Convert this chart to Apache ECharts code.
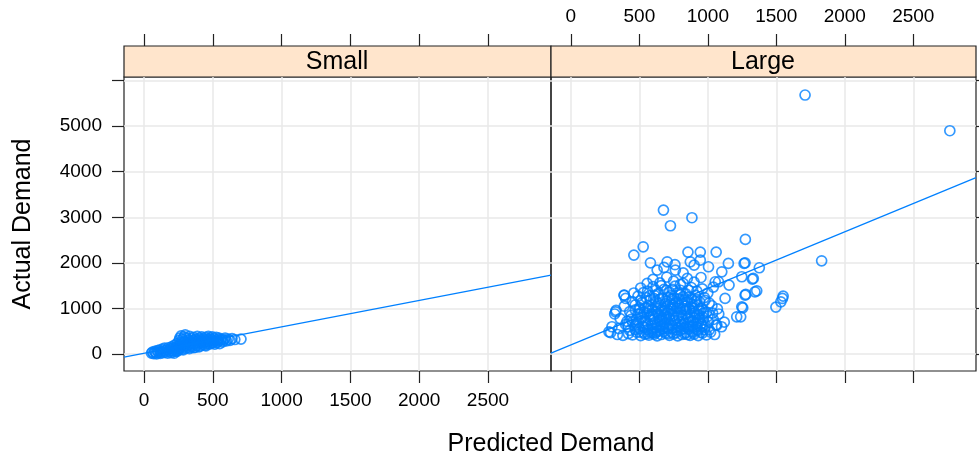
<!DOCTYPE html>
<html lang="en">
<head>
<meta charset="UTF-8">
<title>Actual vs Predicted Demand</title>
<style>
  html, body { margin: 0; padding: 0; background: #fff; }
  #chart { width: 979px; height: 461px; }
</style>
</head>
<body>
<div id="chart"></div>
<script src="https://cdn.jsdelivr.net/npm/echarts@6/dist/echarts.min.js"></script>
<script>
// panel names
var panels = ['Small', 'Large'];

// axis ticks
var xTicks = [0, 500, 1000, 1500, 2000, 2500];
var yTicks = [0, 1000, 2000, 3000, 4000, 5000, 6000];
var yLabels = [0, 1000, 2000, 3000, 4000, 5000];
var xRange = [-145, 2958];
var yRange = [-370, 6075];

// fitted lines: [intercept, slope]
var smallFit = [19, 0.579];
var largeFit = [202, 1.24];

// [predicted, actual] - Small
var smallPoints = [
  [55,20],[62,45],[70,10],[78,60],[85,30],[92,5],[98,75],[105,40],[112,90],[118,15],
  [125,55],[132,110],[138,30],[145,70],[150,130],[158,45],[165,95],[172,20],[178,140],[185,65],
  [190,110],[196,35],[200,160],[205,85],[210,130],[215,55],[220,190],[225,105],[230,150],[235,70],
  [240,230],[244,120],[248,175],[252,95],[256,300],[260,210],[264,140],[268,260],[272,180],[276,110],
  [280,330],[284,240],[288,160],[292,380],[296,280],[300,200],[304,130],[308,350],[312,250],[316,180],
  [320,310],[324,220],[328,150],[332,390],[336,270],[340,200],[344,340],[348,240],[352,170],[356,300],
  [360,370],[364,220],[368,280],[372,150],[376,330],[380,250],[384,190],[388,390],[392,300],[396,230],
  [400,350],[404,270],[408,180],[412,320],[416,240],[420,380],[424,290],[428,210],[432,340],[436,260],
  [440,310],[444,200],[448,370],[452,280],[456,230],[460,330],[464,260],[468,390],[472,300],[476,220],
  [480,350],[484,270],[488,320],[492,240],[496,380],[500,300],[505,260],[510,340],[515,220],[520,290],
  [525,370],[530,250],[535,320],[540,280],[545,350],[550,230],[558,300],[565,330],[572,270],[580,310],
  [590,350],[600,290],[612,330],[625,300],[640,340],[660,320],[705,330],
  [270,400],[300,420],[260,350],[285,95],[330,120],[360,140],[400,160],[450,180],[240,60],[220,20]
];

// [predicted, actual] - Large
var largePoints = [
  [290,470],[340,430],[380,410],[420,450],[450,420],[480,480],[510,405],[540,440],[570,415],[600,470],
  [630,400],[660,430],[690,460],[720,410],[750,445],[780,400],[810,430],[840,470],[870,410],[900,440],
  [930,405],[960,460],[990,420],[1020,480],[1050,430],
  [300,600],[350,560],[400,650],[430,520],[470,620],[500,560],[530,690],[560,540],[590,640],[620,580],
  [650,520],[680,670],[710,560],[740,630],[770,530],[800,600],[830,680],[860,550],[890,620],[920,540],
  [950,660],[980,590],[1010,530],[1060,640],[1100,600],
  [320,880],[360,780],[410,720],[440,850],[480,760],[510,880],[545,730],[575,820],[605,760],[635,890],
  [665,720],[695,810],[725,870],[755,740],[785,840],[815,770],[845,880],[875,720],[905,800],[935,860],
  [965,750],[1000,830],[1040,760],[1080,880],[1120,700],
  [330,960],[390,1050],[430,930],[470,1080],[505,990],[535,920],[565,1060],[595,980],[625,930],[655,1070],
  [685,1000],[715,940],[745,1080],[775,1010],[805,920],[835,1050],[865,980],[895,940],[925,1070],[955,1000],
  [990,920],[1030,1060],[1070,990],
  [390,1290],[400,1220],[450,1150],[490,1270],[520,1130],[550,1240],[580,1180],[610,1290],[640,1120],[670,1230],
  [700,1160],[730,1280],[760,1110],[790,1210],[820,1260],[850,1140],[880,1220],[910,1290],[940,1150],[975,1240],
  [1010,1120],[1126,1221],
  [460,1340],[510,1450],[560,1380],[600,1480],[640,1330],[680,1420],[720,1360],[760,1490],[800,1400],[840,1320],
  [880,1460],[920,1380],[960,1430],[1000,1340],[1040,1470],
  [557,1550],[600,1640],[650,1560],[700,1690],[750,1600],[800,1530],[850,1660],[900,1580],[950,1680],[1054,1586],
  [1078,1586],
  [630,1842],[680,1900],[703,2024],[763,1842],[820,1780],[872,2024],[945,2060],[1005,1915],[1102,1805],[900,1950],
  [581,2002],[760,1960],
  [470,540],[495,700],[525,610],[555,900],[585,470],[615,700],[645,820],[675,560],[705,900],[735,480],
  [765,690],[795,1000],[825,560],[855,800],[885,500],[915,680],[945,950],[975,540],[1005,700],[1035,900],
  [520,800],[560,1010],[600,560],[640,1000],[680,850],[720,640],[760,940],[800,700],[840,600],[880,1100],
  [920,860],[960,620],[500,1020],[540,580],[580,750],[620,1150],[660,620],[700,760],[740,1200],[780,580],
  [820,1000],[860,700],[900,1060],[940,780],[980,1180],[450,700],[420,600],[490,880],[530,1350],[570,950],
  [610,440],[650,740],[690,1100],[730,1020],[770,800],[810,1120],[850,430],[890,730],[930,520],[970,900],
  [560,450],[590,520],[620,470],[650,600],[680,500],[710,450],[740,560],[770,470],[800,520],[830,450],
  [860,600],[890,470],[920,600],[950,480],[600,820],[630,660],[660,960],[690,680],[720,780],[750,850],
  [780,660],[810,860],[840,960],[870,850],[900,900],[930,700],[960,820],[560,660],[590,880],[620,1050],
  [650,1200],[680,950],[710,1250],[740,990],[770,1150],[800,1300],[830,1180],[860,1250],[890,1020],[920,1200],
  [700,1400],[740,1420],[780,1350],[620,1400],[660,1500],[820,1550],[860,1400],[500,480],[530,470],[480,650],
  [440,760],[470,970],[510,1180],[545,1020],[575,1280],[605,1220],[635,500],[665,780],[695,580],[725,1100],
  [755,1220],[785,1100],[815,640],[845,1000],[875,600],[905,1150],[935,980],
  [460,2171],[528,2353],[676,3158],[727,2814],[884,2990],[855,2237],[945,2237],[1061,2237],[1150,1989],[1272,2002],
  [1274,2515],[1376,1893],[1248,1696],[1325,1645],[1155,1513],[1357,1388],[1277,1309],[1550,1272],[1533,1147],[1497,1031],
  [1545,1220],[1255,1015],[1240,818],[1211,818],[1066,636],[1248,1037],[1272,1294],[1344,1366],[1332,1660],[1831,2046],
  [1710,5680],[2767,4897],[1265,1989],[278,489],[327,928],[388,1294]
];

var blue = '#0080ff';
var ink = '#222';
var font = 'Liberation Sans, Arial, sans-serif';

function fitLine(fit) {
  return [
    [xRange[0], fit[0] + fit[1] * xRange[0]],
    [xRange[1], fit[0] + fit[1] * xRange[1]]
  ];
}

function plain(v) { return String(v); }

function xAxisCfg(grid, pos, showLabel, showGrid) {
  return {
    type: 'value', gridIndex: grid, position: pos,
    offset: pos === 'top' ? 31 : 0,
    min: xRange[0], max: xRange[1],
    axisLine: { show: false, onZero: false },
    axisTick: { show: true, length: 12, customValues: xTicks, lineStyle: { color: ink, width: 1.2 } },
    axisLabel: { show: showLabel, customValues: xTicks, formatter: plain, margin: 20, color: '#000', fontSize: 19, fontFamily: font },
    splitLine: { show: showGrid, lineStyle: { color: '#e8e8e8', width: 1.5 } }
  };
}

function yAxisCfg(grid, pos, showLabel) {
  return {
    type: 'value', gridIndex: grid, position: pos,
    min: yRange[0], max: yRange[1],
    axisLine: { show: false, onZero: false },
    axisTick: { show: true, length: 12, customValues: yTicks, lineStyle: { color: ink, width: 1.2 } },
    axisLabel: { show: showLabel, customValues: yLabels, formatter: plain, margin: 22, color: '#000', fontSize: 19, fontFamily: font },
    splitLine: { show: true, lineStyle: { color: '#e8e8e8', width: 1.5 } }
  };
}

var pointStyle = { color: 'rgba(0,0,0,0)', borderColor: blue, borderWidth: 1.7 };

var chart = echarts.init(document.getElementById('chart'));
var option = {
  animation: false,
  backgroundColor: '#fff',
  grid: [
    { left: 124, top: 77, width: 427, height: 294, show: true, borderColor: ink, borderWidth: 1.2, backgroundColor: 'transparent' },
    { left: 551, top: 77, width: 425, height: 294, show: true, borderColor: ink, borderWidth: 1.2, backgroundColor: 'transparent' }
  ],
  xAxis: [
    xAxisCfg(0, 'bottom', true, true),
    xAxisCfg(0, 'top', false, false),
    xAxisCfg(1, 'bottom', false, true),
    xAxisCfg(1, 'top', true, false)
  ],
  yAxis: [
    yAxisCfg(0, 'left', true),
    yAxisCfg(1, 'right', false)
  ],
  series: [
    {
      name: panels[0], type: 'scatter', xAxisIndex: 0, yAxisIndex: 0,
      symbol: 'circle', symbolSize: 10, itemStyle: pointStyle, data: smallPoints
    },
    {
      name: panels[0] + ' fit', type: 'line', xAxisIndex: 0, yAxisIndex: 0,
      symbol: 'none', lineStyle: { color: blue, width: 1.2 }, data: fitLine(smallFit)
    },
    {
      name: panels[1], type: 'scatter', xAxisIndex: 2, yAxisIndex: 1,
      symbol: 'circle', symbolSize: 10, itemStyle: pointStyle, data: largePoints
    },
    {
      name: panels[1] + ' fit', type: 'line', xAxisIndex: 2, yAxisIndex: 1,
      symbol: 'none', lineStyle: { color: blue, width: 1.2 }, data: fitLine(largeFit)
    }
  ],
  graphic: [
    { type: 'rect', shape: { x: 124, y: 46, width: 427, height: 31 }, style: { fill: '#ffe5cc', stroke: ink, lineWidth: 1.2 } },
    { type: 'rect', shape: { x: 551, y: 46, width: 425, height: 31 }, style: { fill: '#ffe5cc', stroke: ink, lineWidth: 1.2 } },
    { type: 'text', x: 337, y: 62, style: { text: panels[0], font: '25px ' + font, fill: '#000', align: 'center', verticalAlign: 'middle' } },
    { type: 'text', x: 763, y: 62, style: { text: panels[1], font: '25px ' + font, fill: '#000', align: 'center', verticalAlign: 'middle' } },
    { type: 'text', x: 23, y: 224, rotation: Math.PI / 2, style: { text: 'Actual Demand', font: '25px ' + font, fill: '#000', align: 'center', verticalAlign: 'middle' } },
    { type: 'text', x: 551, y: 444, style: { text: 'Predicted Demand', font: '25px ' + font, fill: '#000', align: 'center', verticalAlign: 'middle' } }
  ]
};
chart.setOption(option);
</script>
</body>
</html>
